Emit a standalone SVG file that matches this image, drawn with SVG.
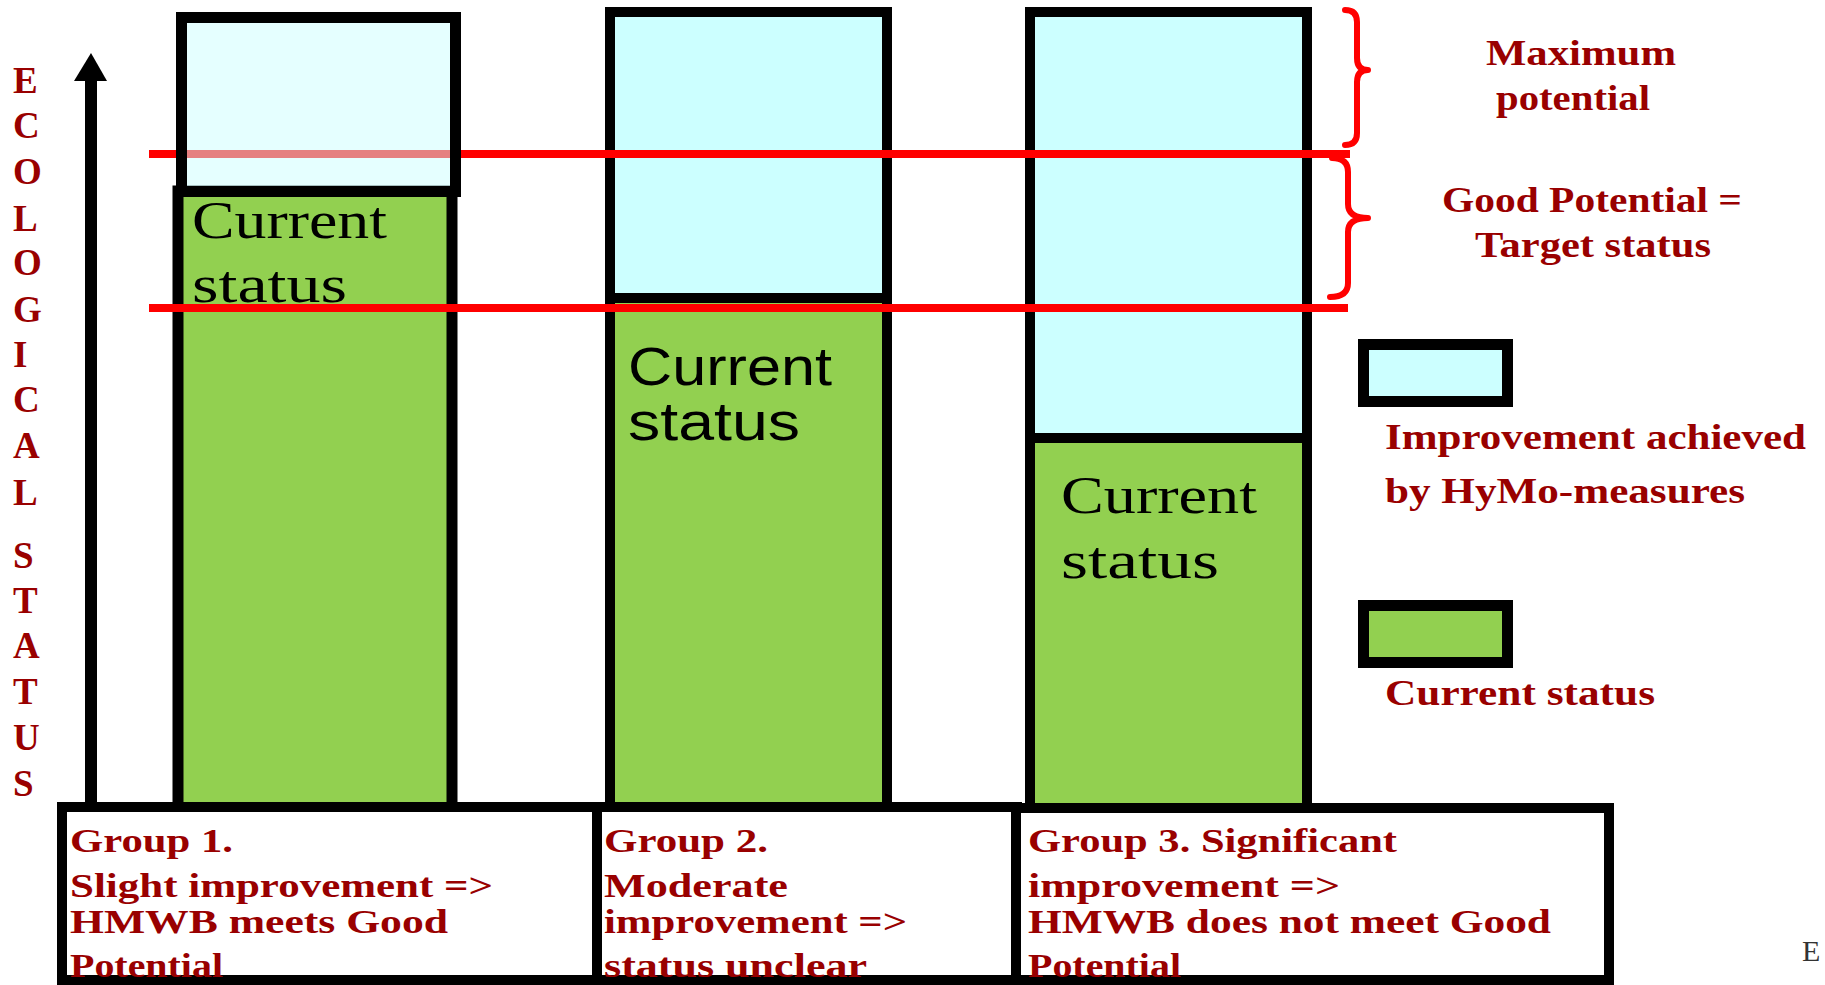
<svg xmlns="http://www.w3.org/2000/svg" width="1825" height="985" viewBox="0 0 1825 985">
<style>
.blue{fill:#CCFFFF;stroke:#000;stroke-width:10}
.green{fill:#92D050;stroke:#000;stroke-width:10}
.box{fill:#fff;stroke:#000;stroke-width:10}
.red{stroke:#FF0000;stroke-width:8}
.brace{fill:none;stroke:#FF0000;stroke-width:6;stroke-linecap:round;stroke-linejoin:round}
.lbl{font-family:"Liberation Serif","Times New Roman",serif;font-weight:bold;fill:#990000;font-size:36px}
.grp{font-size:34px}
.axis{font-family:"Liberation Serif","Times New Roman",serif;font-weight:bold;fill:#990000;font-size:37px}
.cs{font-family:"Liberation Serif","Times New Roman",serif;fill:#000;font-size:52px}
.css{font-family:"Liberation Sans",Arial,sans-serif;fill:#000;font-size:53px}
</style>
<rect width="1825" height="985" fill="#fff"/>

<g id="bar2">
  <rect class="blue" x="610" y="12" width="277" height="286"/>
  <rect class="green" x="610" y="298" width="277" height="510"/>
  <text class="css"><tspan x="628" y="385" textLength="204" lengthAdjust="spacingAndGlyphs">Current</tspan><tspan x="628" y="440" textLength="172" lengthAdjust="spacingAndGlyphs">status</tspan></text>
</g>
<g id="bar3">
  <rect class="blue" x="1030" y="12" width="277" height="426"/>
  <rect class="green" x="1030" y="438" width="277" height="370"/>
  <text class="cs"><tspan x="1061" y="513" textLength="196" lengthAdjust="spacingAndGlyphs">Current</tspan><tspan x="1061" y="578" textLength="158" lengthAdjust="spacingAndGlyphs">status</tspan></text>
</g>
<g id="bar1">
  <rect class="green" x="178" y="191" width="274" height="617" style="stroke-width:11"/>
  <text class="cs"><tspan x="192" y="238" textLength="195" lengthAdjust="spacingAndGlyphs">Current</tspan><tspan x="192" y="302" textLength="155" lengthAdjust="spacingAndGlyphs">status</tspan></text>
</g>

<g id="levels">
  <line class="red" x1="149" y1="154" x2="1350" y2="154"/>
  <line class="red" x1="149" y1="308" x2="1348" y2="308"/>
</g>

<g id="bar1-improvement">
  <rect x="181.5" y="17.5" width="274" height="174" fill="#CCFFFF" fill-opacity="0.5" stroke="#000" stroke-width="11"/>
</g>

<g id="connectors">
  <rect x="85" y="76" width="12" height="734" fill="#000"/>
  <polygon points="74,81 91,53 107,81" fill="#000"/>
  <path class="brace" d="M1345 10 Q1357 10 1357 22 L1357 58 Q1357 70 1368 70 Q1357 70 1357 82 L1357 133 Q1357 145 1345 145"/>
  <path class="brace" d="M1332 158 Q1348 158 1348 172 L1348 204 Q1348 218 1368 218 Q1348 218 1348 232 L1348 283 Q1348 297 1330 297"/>
</g>

<g id="axis-label" class="axis">
  <text x="13" y="93">E</text>
  <text x="13" y="138">C</text>
  <text x="13" y="184">O</text>
  <text x="13" y="231">L</text>
  <text x="13" y="275">O</text>
  <text x="13" y="322">G</text>
  <text x="13" y="367">I</text>
  <text x="13" y="412">C</text>
  <text x="13" y="458">A</text>
  <text x="13" y="505">L</text>
  <text x="13" y="568">S</text>
  <text x="13" y="613">T</text>
  <text x="13" y="658">A</text>
  <text x="13" y="704">T</text>
  <text x="13" y="750">U</text>
  <text x="13" y="796">S</text>
</g>

<g id="group1">
  <rect class="box" x="62" y="807" width="535" height="173"/>
  <text class="lbl grp">
    <tspan x="70" y="852" textLength="163" lengthAdjust="spacingAndGlyphs">Group 1.</tspan>
    <tspan x="70" y="897" textLength="423" lengthAdjust="spacingAndGlyphs">Slight improvement  =&gt;</tspan>
    <tspan x="70" y="933" textLength="378" lengthAdjust="spacingAndGlyphs">HMWB  meets  Good</tspan>
    <tspan x="70" y="977" textLength="153" lengthAdjust="spacingAndGlyphs">Potential</tspan>
  </text>
</g>
<g id="group2">
  <rect class="box" x="597" y="807" width="420" height="173"/>
  <text class="lbl grp">
    <tspan x="604" y="852" textLength="164" lengthAdjust="spacingAndGlyphs">Group 2.</tspan>
    <tspan x="604" y="897" textLength="184" lengthAdjust="spacingAndGlyphs">Moderate</tspan>
    <tspan x="604" y="933" textLength="303" lengthAdjust="spacingAndGlyphs">improvement =&gt;</tspan>
    <tspan x="604" y="977" textLength="263" lengthAdjust="spacingAndGlyphs">status  unclear</tspan>
  </text>
</g>
<g id="group3">
  <rect class="box" x="1016" y="808" width="593" height="172"/>
  <text class="lbl grp">
    <tspan x="1028" y="852" textLength="369" lengthAdjust="spacingAndGlyphs">Group 3. Significant</tspan>
    <tspan x="1028" y="897" textLength="312" lengthAdjust="spacingAndGlyphs">improvement  =&gt;</tspan>
    <tspan x="1028" y="933" textLength="523" lengthAdjust="spacingAndGlyphs">HMWB  does  not meet Good</tspan>
    <tspan x="1028" y="977" textLength="153" lengthAdjust="spacingAndGlyphs">Potential</tspan>
  </text>
</g>

<g id="max-potential">
  <text class="lbl"><tspan x="1486" y="65" textLength="190" lengthAdjust="spacingAndGlyphs">Maximum</tspan><tspan x="1496" y="110" textLength="154" lengthAdjust="spacingAndGlyphs">potential</tspan></text>
</g>
<g id="good-potential">
  <text class="lbl"><tspan x="1442" y="212" textLength="300" lengthAdjust="spacingAndGlyphs">Good Potential =</tspan><tspan x="1475" y="257" textLength="236" lengthAdjust="spacingAndGlyphs">Target status</tspan></text>
</g>

<g id="legend-improvement">
  <rect class="blue" x="1363.5" y="344.5" width="144" height="57" style="stroke-width:11"/>
  <text class="lbl"><tspan x="1385" y="449" textLength="421" lengthAdjust="spacingAndGlyphs">Improvement achieved</tspan><tspan x="1385" y="503" textLength="360" lengthAdjust="spacingAndGlyphs">by HyMo-measures</tspan></text>
</g>
<g id="legend-current">
  <rect class="green" x="1363.5" y="605.5" width="144" height="57" style="stroke-width:11"/>
  <text class="lbl" x="1385" y="705" textLength="270" lengthAdjust="spacingAndGlyphs">Current status</text>
</g>

<text x="1802" y="961" font-family="Liberation Serif, serif" font-size="30" fill="#333">E</text>
</svg>
